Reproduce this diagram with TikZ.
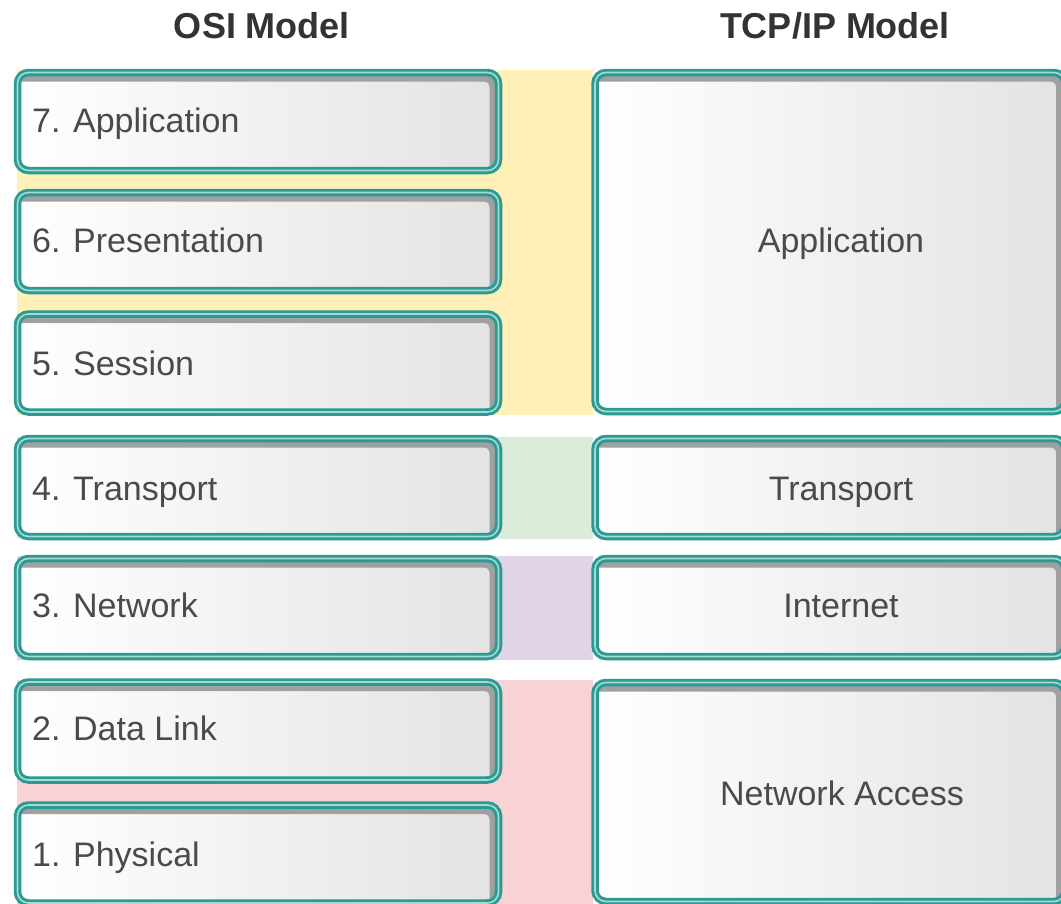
\documentclass[tikz,border=0pt]{standalone}
\usepackage{fontspec}
\setmainfont{Liberation Sans}
\definecolor{tealA}{HTML}{2A9A92}
\definecolor{tealB}{HTML}{A6DAD4}
\definecolor{bandY}{HTML}{FFF0B8}
\definecolor{bandG}{HTML}{DCEBDA}
\definecolor{bandP}{HTML}{E0D5E6}
\definecolor{bandR}{HTML}{F8D2D4}
\definecolor{txt}{HTML}{4A4A4A}
\definecolor{ttl}{HTML}{333333}
\definecolor{shadowgray}{HTML}{A0A0A0}
\tikzset{
  layerbox/.style={rounded corners=11pt, inner sep=0pt, outer sep=0pt,
    left color=white, right color=black!11,
    draw=tealA, line width=7.5pt,
    path picture={\draw[shadowgray, line width=8pt, rounded corners=9pt]
      ([xshift=-30pt,yshift=-5pt]path picture bounding box.north west) rectangle
      ([xshift=-5pt,yshift=-30pt]path picture bounding box.south east);},
    postaction={draw=tealB, line width=1.6pt}},
  leftbox/.style={layerbox, minimum width=481pt, minimum height=98pt},
  rightbox/.style={layerbox, minimum width=470pt},
  lbl/.style={font=\fontsize{34}{38}\selectfont, text=txt, inner sep=0pt},
  ttlstyle/.style={font=\fontsize{36}{40}\selectfont\bfseries, text=ttl, inner sep=0pt}
}
\begin{document}
\begin{tikzpicture}[x=1pt,y=-1pt]
\path[use as bounding box, clip] (0,0) rectangle (1061,903);
\fill[white] (0,0) rectangle (1061,903);
% bands
\fill[bandY] (17,70) rectangle (593,415);
\fill[bandG] (17,437) rectangle (593,539);
\fill[bandP] (17,556) rectangle (593,660);
\fill[bandR] (17,680) rectangle (593,910);
% titles
\node[ttlstyle, anchor=base] (osi) at (262,38) {OSI Model};
\node[ttlstyle, anchor=base] (tcp) at (835,38) {TCP/IP Model};
% OSI boxes
\node[leftbox] (o7) at (258,121.5) {};
\node[leftbox] (o6) at (258,241.5) {};
\node[leftbox] (o5) at (258,363) {};
\node[leftbox] (o4) at (258,487.5) {};
\node[leftbox] (o3) at (258,607.5) {};
\node[leftbox] (o2) at (258,731) {};
\node[leftbox] (o1) at (258,854) {};
% TCP/IP boxes
\node[rightbox, minimum height=339pt] (tapp) at (830,242) {};
\node[rightbox, minimum height=98pt] (ttra) at (830,487.5) {};
\node[rightbox, minimum height=98pt] (tint) at (830,607.5) {};
\node[rightbox, minimum height=219pt] (tnet) at (830,792) {};
% OSI labels
\node[lbl, anchor=base west] (l7) at (32,132) {7. Application};
\node[lbl, anchor=base west] (l6) at (32,252) {6. Presentation};
\node[lbl, anchor=base west] (l5) at (32,375) {5. Session};
\node[lbl, anchor=base west] (l4) at (32,500) {4. Transport};
\node[lbl, anchor=base west] (l3) at (32,617) {3. Network};
\node[lbl, anchor=base west] (l2) at (32,740) {2. Data Link};
\node[lbl, anchor=base west] (l1) at (32,866) {1. Physical};
% TCP/IP labels
\node[lbl, anchor=base] (rapp) at (841,252) {Application};
\node[lbl, anchor=base] (rtra) at (841,500) {Transport};
\node[lbl, anchor=base] (rint) at (841,617) {Internet};
\node[lbl, anchor=base] (rnet) at (842,805) {Network Access};
\end{tikzpicture}
\end{document}
